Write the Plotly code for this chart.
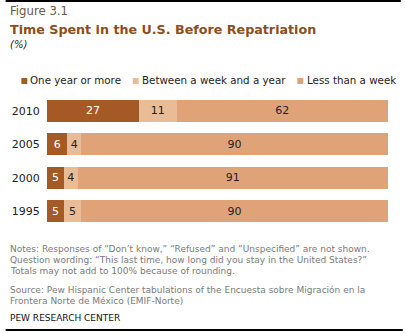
import plotly.graph_objects as go

# Survey years, listed bottom to top
years = ["1995", "2000", "2005", "2010"]

# Share of repatriated migrants by time spent in the U.S. (%)
one_year_or_more = [5, 5, 6, 27]
week_to_year = [5, 4, 4, 11]
less_than_week = [90, 91, 90, 62]

series_names = ["One year or more", "Between a week and a year", "Less than a week"]
series_colors = ["#A55A25", "#E9BC98", "#E0A378"]
label_colors = ["#FFFFFF", "#222222", "#222222"]

FONT = "DejaVu Sans"

fig = go.Figure()
for name, vals, col, tcol in zip(series_names,
                                 [one_year_or_more, week_to_year, less_than_week],
                                 series_colors, label_colors):
    fig.add_trace(go.Bar(
        y=years, x=vals, name=name, orientation="h",
        marker=dict(color=col, line=dict(width=0)),
        text=[str(v) for v in vals], textposition="inside",
        insidetextanchor="middle",
        textfont=dict(family=FONT, size=11, color=tcol),
        showlegend=False,
    ))

W, H = 405, 333
ML, MR, MT, MB = 42, 17, 94, 105
plot_w = W - ML - MR
plot_h = H - MT - MB

fig.update_layout(
    barmode="stack",
    bargap=0.34,
    width=W, height=H,
    margin=dict(l=ML, r=MR, t=MT, b=MB),
    paper_bgcolor="white", plot_bgcolor="white",
    uniformtext=dict(minsize=11, mode="show"),
    xaxis=dict(range=[0, 100], visible=False, fixedrange=True),
    yaxis=dict(showgrid=False, zeroline=False, showline=False,
               tickfont=dict(family=FONT, size=11, color="#222222"),
               ticks="outside", ticklen=4, tickcolor="rgba(0,0,0,0)",
               fixedrange=True),
)


def px_x(v):
    return (v - ML) / plot_w


def px_y(v):
    return (H - v - MB) / plot_h


def label(text, x, y, size, color):
    return dict(text=text, x=px_x(x), y=px_y(y), xref="paper", yref="paper",
                showarrow=False, xanchor="left", yanchor="middle",
                font=dict(family=FONT, size=size, color=color))


ann = [
    label("Figure 3.1", 2, 11, 11.7, "#6b5844"),
    label("<b>Time Spent in the U.S. Before Repatriation</b>", 2, 29, 12.7, "#8a4f1c"),
    label("<i>(%)</i>", 2, 44, 10, "#222222"),
]

# Legend row: small swatches drawn as shapes, names as text
legend_sq = [16, 129, 296]
legend_tx = [23, 136, 304]
for sx, tx, name, col in zip(legend_sq, legend_tx, series_names, series_colors):
    fig.add_shape(type="rect", xref="paper", yref="paper",
                  x0=px_x(sx), x1=px_x(sx + 6), y0=px_y(84), y1=px_y(78),
                  fillcolor=col, line=dict(width=0))
    ann.append(label(name, tx, 80, 10.3, "#222222"))

# Notes and source
note_lines = [
    (249, "Notes: Responses of \u201cDon\u2019t know,\u201d \u201cRefused\u201d and \u201cUnspecified\u201d are not shown."),
    (260, "Question wording: \u201cThis last time, how long did you stay in the United States?\u201d"),
    (271, "Totals may not add to 100% because of rounding."),
    (290, "Source: Pew Hispanic Center tabulations of the Encuesta sobre Migraci\u00f3n en la"),
    (301, "Frontera Norte de M\u00e9xico (EMIF-Norte)"),
]
for yy, line in note_lines:
    ann.append(label(line, 2, yy, 9, "#7a7a7a"))
ann.append(label("PEW RESEARCH CENTER", 2, 318, 9, "#111111"))

fig.update_layout(annotations=ann)

# Rules at top and bottom
fig.add_shape(type="line", xref="paper", yref="paper", x0=px_x(0), x1=px_x(401),
              y0=px_y(1), y1=px_y(1), line=dict(color="#000000", width=2))
fig.add_shape(type="line", xref="paper", yref="paper", x0=px_x(0), x1=px_x(403),
              y0=px_y(330), y1=px_y(330), line=dict(color="#000000", width=2))

fig.write_html("out.html")
